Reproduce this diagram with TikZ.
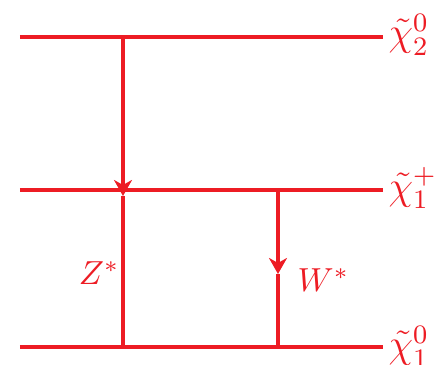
\documentclass[tikz,border=0pt]{standalone}
\usetikzlibrary{arrows.meta}
\definecolor{hred}{RGB}{237,28,36}
\begin{document}
\begin{tikzpicture}[x=0.3pt,y=-0.3pt,
  level/.style={line width=0.95pt,draw=hred},
  prop/.style={line width=0.95pt,draw=hred},
  tip/.style={-{Stealth[length=4.8pt,width=5.4pt,inset=1.5pt]}},
  lab/.style={text=hred,font=\normalsize,inner sep=0pt},
  plab/.style={text=hred,font=\large,inner sep=0pt}]
\useasboundingbox (0,0) rectangle (442,365);
% levels
\coordinate (l2a) at (20,37);  \coordinate (l2b) at (383,37);
\coordinate (l1a) at (20,190); \coordinate (l1b) at (383,190);
\coordinate (l0a) at (20,347); \coordinate (l0b) at (383,347);
\draw[level] (l2a) -- (l2b);
\draw[level] (l1a) -- (l1b);
\draw[level] (l0a) -- (l0b);
\node[plab,anchor=west] (n2) at (388,35) {$\tilde\chi_2^0$};
\node[plab,anchor=west] (c1) at (388,188) {$\tilde\chi_1^+$};
\node[plab,anchor=west] (n1) at (388,347) {$\tilde\chi_1^0$};
% Z* line
\coordinate (zt) at (123,37);
\coordinate (zm) at (123,196);
\coordinate (zb) at (123,347);
\draw[prop,tip] (zt) -- (zm);
\draw[prop] (zm) -- (zb);
\node[lab,anchor=base east] (zl) at (120,285) {$Z^*$};
% W* line
\coordinate (wt) at (278,190);
\coordinate (wm) at (278,274);
\coordinate (wb) at (278,347);
\draw[prop,tip] (wt) -- (wm);
\draw[prop] (wm) -- (wb);
\node[lab,anchor=base west] (wl) at (297,292) {$W^*$};
\end{tikzpicture}
\end{document}
